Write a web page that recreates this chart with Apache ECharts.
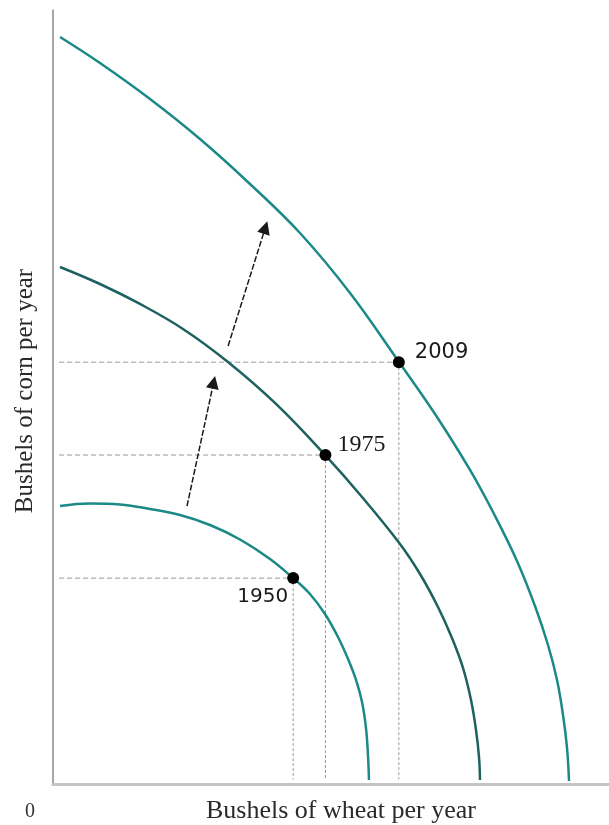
<!DOCTYPE html>
<html>
<head>
<meta charset="utf-8">
<script src="https://cdn.jsdelivr.net/npm/echarts@6/dist/echarts.min.js"></script>
<style>
html,body{margin:0;padding:0;background:#fff;}
#chart{width:609px;height:825px;}
</style>
</head>
<body>
<div id="chart"></div>
<script>
// Production possibility frontiers (arbitrary units 0-100)
const curve1950 = [[1.26,35.92],[6.65,36.24],[12.05,36.11],[17.45,35.53],[22.84,34.75],[28.24,33.46],[33.63,31.59],[39.03,29.07],[43.17,26.61],[46.22,24.55],[48.92,21.96],[51.26,18.99],[53.06,16.15],[54.50,13.44],[55.58,10.59],[56.29,7.24],[56.65,3.75],[56.83,0.52]];
const curve1975 = [[1.26,66.80],[8.45,64.60],[15.65,62.02],[23.38,58.79],[31.47,54.52],[40.11,49.10],[48.92,42.51],[55.58,37.08],[62.41,31.01],[66.01,27.13],[69.24,22.87],[71.76,18.86],[73.74,14.99],[75.18,10.85],[76.08,6.98],[76.62,3.49],[76.80,0.52]];
const curve2009 = [[1.26,96.51],[8.45,93.15],[17.45,88.50],[26.44,83.33],[35.43,77.52],[44.42,71.19],[53.42,63.44],[62.23,54.52],[68.71,47.80],[75.00,40.57],[79.50,34.63],[83.45,28.81],[86.69,23.00],[89.03,17.96],[90.65,13.44],[91.73,8.91],[92.45,4.65],[92.81,0.39]];

const years = ['1950','1975','2009'];
const pointWheat = [43.2, 49.0, 62.2];
const pointCorn = [26.6, 42.5, 54.5];

const arrowStart = [[24.1,35.9],[31.5,56.6]];
const arrowEnd = [[28.9,51.9],[38.2,71.9]];

const xTitle = 'Bushels of wheat per year';
const yTitle = 'Bushels of corn per year';
const originLabel = '0';

const chart = echarts.init(document.getElementById('chart'), null, {renderer:'canvas'});

const teal = '#1b8a87';
const darkTeal = '#1d625e';
const guideColor = '#9a9a9a';

const guideH = years.map((y,i)=>[[1.1, pointCorn[i]],[pointWheat[i], pointCorn[i]]]);
const guideV = years.map((y,i)=>[[pointWheat[i], pointCorn[i]],[pointWheat[i], 0.6]]);

const series = [];
guideH.forEach(d=>series.push({type:'line', data:d, symbol:'none', silent:true, z:1,
  lineStyle:{color:guideColor, width:1, type:[5,3]}}));
guideV.forEach(d=>series.push({type:'line', data:d, symbol:'none', silent:true, z:1,
  lineStyle:{color:guideColor, width:1, type:[3,2]}}));

[[curve1950,teal],[curve1975,darkTeal],[curve2009,teal]].forEach(([d,c])=>series.push({
  type:'line', data:d, symbol:'none', smooth:0.4, z:3,
  lineStyle:{color:c, width:2.5}
}));

series.push({
  type:'lines', coordinateSystem:'cartesian2d', z:4,
  symbol:['none','triangle'], symbolSize:13,
  lineStyle:{color:'#1a1a1a', width:1.5, type:[6,2], opacity:1},
  itemStyle:{color:'#000', opacity:1},
  data: arrowStart.map((s,i)=>({coords:[s, arrowEnd[i]]}))
});

const labelCfg = [
  {position:'inside', align:'right', verticalAlign:'middle', offset:[-5,19], fontFamily:'DejaVu Sans', fontSize:20},
  {position:'inside', align:'left', verticalAlign:'middle', offset:[12,-10], fontFamily:'Liberation Serif', fontSize:24},
  {position:'inside', align:'left', verticalAlign:'middle', offset:[16,-10], fontFamily:'DejaVu Sans', fontSize:21}
];

series.push({
  type:'scatter', z:5, symbol:'circle', symbolSize:12,
  itemStyle:{color:'#000', opacity:1},
  data: years.map((y,i)=>({
    value:[pointWheat[i], pointCorn[i]],
    label:Object.assign({show:true, formatter:y, color:'#1a1a1a'}, labelCfg[i])
  }))
});

chart.setOption({
  animation:false,
  backgroundColor:'#fff',
  grid:{left:53, right:0, top:10, bottom:41, containLabel:false},
  xAxis:{type:'value', min:0, max:100,
    axisLine:{show:true, onZero:false, lineStyle:{color:'#c4c4c4', width:3}},
    axisTick:{show:false}, axisLabel:{show:false}, splitLine:{show:false}},
  yAxis:{type:'value', min:0, max:100,
    axisLine:{show:true, onZero:false, lineStyle:{color:'#8a8a8a', width:1.5}},
    axisTick:{show:false}, axisLabel:{show:false}, splitLine:{show:false}},
  graphic:[
    {type:'text', x:341, y:811, style:{text:xTitle, font:'26px "Liberation Serif"', fill:'#2a2a2a', align:'center', verticalAlign:'middle'}},
    {type:'text', x:25, y:391, rotation:Math.PI/2, style:{text:yTitle, font:'25px "Liberation Serif"', fill:'#2a2a2a', align:'center', verticalAlign:'middle'}},
    {type:'text', x:30, y:812, style:{text:originLabel, font:'20px "Liberation Serif"', fill:'#333', align:'center', verticalAlign:'middle'}}
  ],
  series: series
});
</script>
</body>
</html>
